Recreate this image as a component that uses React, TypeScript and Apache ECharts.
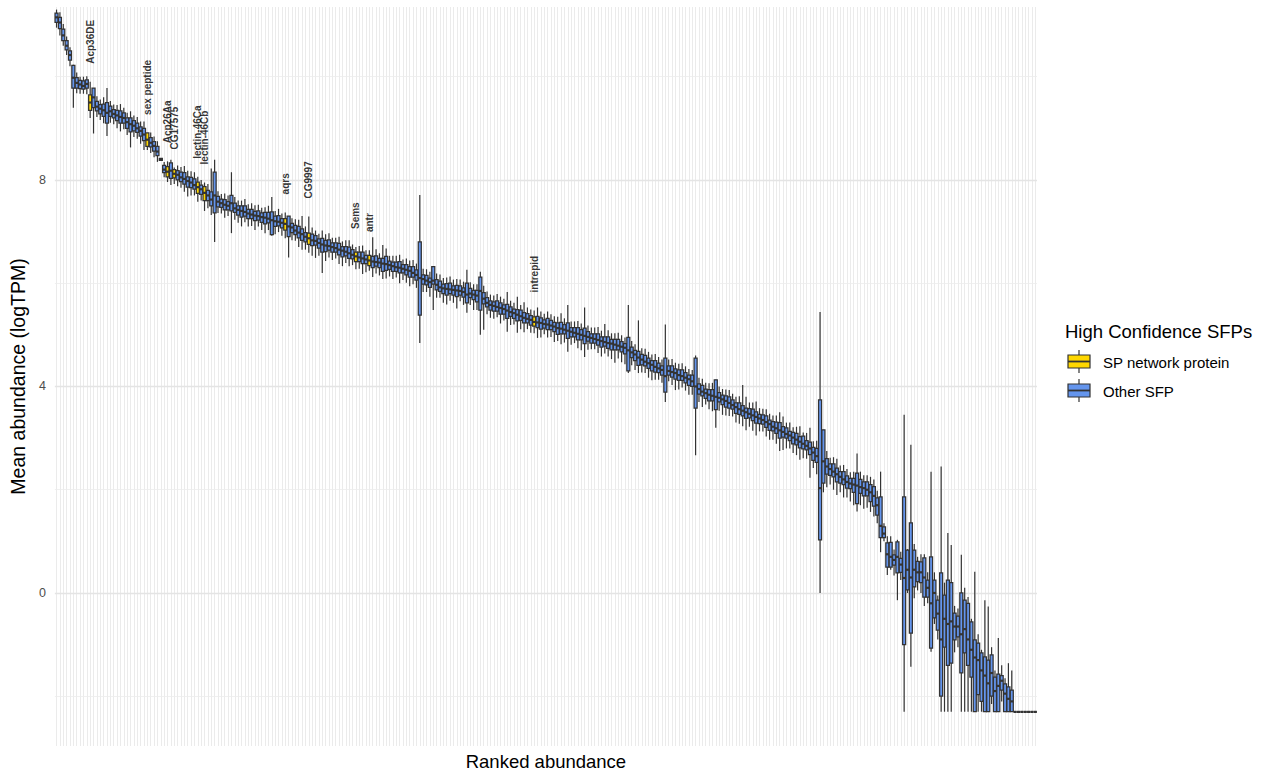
import React, { useEffect, useRef } from "react";
import * as echarts from "echarts";

// logTPM floor (log of 0.1 pseudocount)
const FLOOR = -2.303;

// median logTPM of each SFP, ordered by rank (292 high-confidence SFPs)
const medians: number[] = [
  11.15, 11.05, 10.8, 10.6, 10.42, 9.98, 9.88, 9.85, 9.82, 9.86,
  9.5, 9.6, 9.42, 9.38, 9.35, 9.3, 9.33, 9.28, 9.25, 9.22,
  9.2, 9.12, 9.08, 9.05, 9.0, 8.95, 8.88, 8.78, 8.72, 8.66,
  8.55, 8.4, 8.2, 8.16, 8.18, 8.12, 8.1, 8.05, 8.02, 7.98,
  7.95, 7.9, 7.86, 7.82, 7.75, 7.7, 7.62, 7.7, 7.58, 7.55,
  7.52, 7.5, 7.55, 7.45, 7.42, 7.4, 7.38, 7.35, 7.33, 7.31,
  7.3, 7.28, 7.27, 7.25, 7.22, 7.2, 7.19, 7.17, 7.15, 7.1,
  7.08, 7.02, 6.98, 6.95, 6.9, 6.87, 6.83, 6.82, 6.78, 6.75,
  6.73, 6.72, 6.7, 6.68, 6.65, 6.63, 6.61, 6.58, 6.55, 6.52,
  6.5, 6.48, 6.46, 6.44, 6.42, 6.41, 6.4, 6.38, 6.37, 6.35,
  6.33, 6.31, 6.3, 6.28, 6.26, 6.24, 6.2, 6.16, 6.1, 6.08,
  6.05, 6.02, 6.05, 5.97, 5.92, 5.9, 5.89, 5.88, 5.87, 5.86,
  5.85, 5.83, 5.78, 5.8, 5.78, 5.76, 5.85, 5.7, 5.62, 5.58,
  5.56, 5.54, 5.52, 5.5, 5.47, 5.44, 5.42, 5.39, 5.36, 5.33,
  5.31, 5.29, 5.25, 5.24, 5.23, 5.21, 5.2, 5.18, 5.16, 5.13,
  5.12, 5.1, 5.08, 5.06, 5.04, 5.02, 5.0, 4.98, 4.96, 4.94,
  4.92, 4.9, 4.88, 4.86, 4.84, 4.83, 4.81, 4.79, 4.77, 4.75,
  4.7, 4.66, 4.62, 4.56, 4.52, 4.48, 4.45, 4.42, 4.38, 4.35,
  4.32, 4.2, 4.3, 4.28, 4.26, 4.22, 4.2, 4.17, 4.14, 4.1,
  4.0, 3.95, 3.9, 3.87, 3.84, 3.82, 3.8, 3.78, 3.75, 3.72,
  3.68, 3.64, 3.6, 3.56, 3.53, 3.5, 3.47, 3.44, 3.41, 3.38,
  3.35, 3.31, 3.27, 3.22, 3.19, 3.15, 3.12, 3.08, 3.05, 3.01,
  2.97, 2.93, 2.89, 2.85, 2.8, 2.72, 2.65, 2.03, 2.55, 2.45,
  2.4, 2.35, 2.3, 2.25, 2.2, 2.15, 2.12, 2.1, 2.08, 2.05,
  2.03, 2.0, 1.95, 1.88, 1.7, 1.3, 1.15, 0.75, 0.7, 0.64,
  0.7, 0.55, 0.29, 0.45, 0.3, 0.45, 0.4, 0.4, 0.3, 0.1,
  -0.2, 0.0, -0.4, -0.9, -0.5, -0.6, -0.55, -0.65, -0.65, -0.8,
  -0.7, -0.9, -1.1, -1.25, -1.3, -1.5, -1.6, -1.75, -1.55, -1.9,
  -1.8, -1.7, -1.95, -2.05, -2.1, -2.303, -2.303, -2.303, -2.303, -2.303, -2.303, -2.303,
];

// median - Q1
const q1Drop: number[] = [
  .1, .12, .1, .08, .1, .2, .1, .08, .06, .08,
  .15, .2, .08, .1, .12, .2, .1, .08, .1, .12,
  .1, .12, .15, .1, .08, .1, .12, .13, .08, .1,
  .08, .02, .06, .1, .15, .08, .1, .08, .1, .12,
  .1, .08, .12, .1, .15, .1, .12, .34, .1, .08,
  .1, .08, .15, .08, .1, .12, .08, .1, .08, .1,
  .08, .1, .12, .08, .28, .1, .08, .1, .12, .2,
  .1, .08, .1, .12, .1, .12, .1, .08, .1, .15,
  .12, .08, .1, .08, .1, .12, .08, .1, .08, .1,
  .08, .1, .08, .1, .12, .08, .1, .15, .12, .08,
  .1, .08, .1, .08, .1, .12, .08, .1, .72, .1,
  .08, .1, .07, .1, .08, .1, .12, .08, .1, .12,
  .08, .1, .16, .08, .1, .12, .37, .1, .08, .1,
  .1, .08, .12, .1, .15, .08, .1, .12, .08, .1,
  .08, .1, .08, .1, .12, .08, .1, .08, .1, .12,
  .1, .08, .15, .1, .08, .12, .1, .15, .08, .1,
  .08, .1, .12, .08, .1, .12, .1, .08, .1, .12,
  .4, .1, .12, .15, .1, .08, .1, .12, .1, .08,
  .1, .31, .08, .1, .12, .1, .08, .1, .12, .1,
  .42, .1, .08, .1, .12, .1, .25, .08, .1, .12,
  .1, .08, .12, .1, .1, .12, .08, .1, .12, .1,
  .08, .1, .12, .08, .1, .15, .1, .08, .1, .12,
  .1, .12, .1, .08, .12, .15, .12, 1.0, .42, .15,
  .12, .1, .15, .12, .1, .12, .1, .15, .35, .12,
  .15, .12, .18, .2, .19, .23, .08, .25, .2, .1,
  .31, .15, 1.29, .39, 1.08, .33, .18, .2, .38, .18,
  .87, .48, .32, 1.1, .55, .8, .81, .26, .2, .75,
  .46, .5, .53, 1.05, .67, .6, .7, .55, .45, .4,
  .5, .18, .35, .25, .2, 0, 0, 0, 0, 0, 0, 0,
];

// Q3 - median
const q3Rise: number[] = [
  .08, .1, .12, .1, .08, .24, .1, .08, .1, .08,
  .15, .18, .1, .08, .12, .2, .1, .08, .1, .12,
  .1, .08, .12, .1, .1, .08, .12, .13, .1, .08,
  .1, .02, .08, .1, .15, .08, .08, .1, .12, .08,
  .1, .12, .1, .08, .12, .1, .15, .45, .1, .08,
  .1, .08, .15, .1, .08, .1, .12, .08, .1, .08,
  .1, .08, .1, .12, .16, .1, .12, .08, .1, .2,
  .08, .1, .12, .1, .08, .1, .12, .1, .08, .12,
  .1, .12, .08, .1, .12, .08, .1, .12, .1, .08,
  .1, .12, .08, .1, .1, .12, .08, .1, .15, .08,
  .08, .1, .12, .08, .1, .08, .12, .1, .7, .08,
  .1, .08, .27, .1, .12, .08, .1, .12, .08, .1,
  .1, .08, .22, .1, .08, .1, .27, .12, .1, .08,
  .08, .12, .1, .08, .12, .1, .08, .1, .12, .1,
  .1, .08, .1, .12, .1, .08, .12, .1, .08, .1,
  .12, .1, .15, .08, .1, .12, .1, .15, .1, .08,
  .1, .12, .08, .1, .12, .08, .1, .12, .1, .08,
  .25, .1, .08, .12, .1, .12, .1, .08, .12, .1,
  .08, .35, .1, .12, .08, .1, .12, .1, .08, .12,
  .55, .1, .12, .08, .1, .12, .33, .1, .08, .1,
  .12, .1, .08, .12, .1, .08, .1, .12, .1, .08,
  .1, .12, .08, .1, .12, .15, .1, .12, .08, .1,
  .12, .1, .15, .1, .12, .1, .15, 1.71, .61, .15,
  .1, .15, .12, .1, .15, .12, .1, .12, .24, .15,
  .12, .15, .15, .18, .14, .56, .13, .22, .28, .1,
  .29, .12, 1.57, .38, 1.06, .38, .21, .2, .38, .15,
  .9, .25, .26, 1.29, .46, .85, .75, .26, .2, .8,
  .56, .7, .54, .34, .33, .34, .36, .45, .35, .27,
  .23, .1, .19, .23, .22, 0, 0, 0, 0, 0, 0, 0,
];

// median - lower whisker end
const minDrop: number[] = [
  .2, .25, .2, .18, .22, .58, .2, .18, .15, .2,
  .3, .7, .2, .22, .25, .45, .22, .2, .25, .28,
  .22, .25, .45, .22, .2, .25, .3, .2, .2, .22,
  .2, .02, .15, .2, .28, .2, .22, .2, .25, .3,
  .25, .2, .28, .22, .35, .25, .3, .9, .22, .2,
  .25, .2, .58, .22, .25, .3, .2, .25, .22, .28,
  .2, .25, .3, .22, .3, .25, .2, .25, .28, .6,
  .25, .2, .28, .3, .25, .28, .3, .33, .25, .55,
  .3, .22, .25, .2, .28, .3, .22, .25, .2, .25,
  .22, .3, .25, .2, .3, .22, .25, .3, .28, .22,
  .25, .2, .3, .22, .25, .3, .22, .25, 1.26, .25,
  .22, .28, .57, .25, .2, .28, .3, .22, .25, .35,
  .2, .25, .35, .22, .3, .28, .85, .6, .22, .25,
  .25, .2, .3, .22, .41, .25, .22, .35, .25, .28,
  .2, .25, .22, .3, .28, .2, .25, .22, .3, .25,
  .3, .25, .41, .25, .2, .28, .3, .41, .25, .22,
  .2, .25, .3, .22, .26, .3, .35, .25, .3, .32,
  .44, .25, .3, .3, .25, .22, .28, .3, .25, .22,
  .25, .5, .2, .25, .33, .28, .22, .25, .3, .26,
  1.33, .25, .3, .22, .28, .3, .6, .25, .3, .28,
  .25, .22, .3, .28, .3, .35, .25, .3, .36, .25,
  .22, .28, .3, .25, .3, .4, .35, .28, .25, .3,
  .3, .35, .28, .25, .57, .3, .35, 2.03, .6, .4,
  .3, .35, .4, .3, .35, .3, .35, .4, .5, .35,
  .4, .35, .38, .4, .35, .51, .15, .4, .25, .3,
  .84, .3, 2.59, .45, 1.73, .55, .35, .4, .55, .3,
  .94, .6, .5, 1.4, 1.8, 1.7, 1.75, .5, .4, 1.5,
  1.6, 1.4, 1.2, 1.05, 1.0, .8, .7, .55, .6, .4,
  .5, .4, .35, .25, .2, 0, 0, 0, 0, 0, 0, 0,
];

// upper whisker end - median
const maxRise: number[] = [
  .15, .2, .22, .18, .15, .25, .2, .15, .18, .15,
  .4, .18, .2, .18, .25, .48, .2, .18, .2, .25,
  .2, .18, .25, .2, .22, .18, .25, .13, .2, .18,
  .2, .02, .15, .2, .21, .12, .18, .2, .25, .2,
  .22, .25, .2, .18, .2, .22, .6, .69, .2, .18,
  .22, .2, .6, .22, .18, .2, .25, .18, .22, .2,
  .22, .18, .2, .25, .45, .2, .25, .18, .22, .2,
  .18, .22, .25, .35, .2, .42, .25, .2, .18, .27,
  .22, .25, .18, .2, .25, .18, .22, .25, .2, .18,
  .22, .25, .18, .2, .47, .25, .18, .36, .3, .18,
  .2, .22, .25, .18, .22, .2, .25, .22, 1.61, .2,
  .22, .2, .27, .22, .25, .2, .22, .25, .2, .22,
  .22, .2, .48, .22, .2, .22, .37, .25, .22, .2,
  .2, .25, .22, .2, .36, .22, .2, .35, .22, .3,
  .22, .2, .22, .29, .22, .2, .25, .22, .2, .22,
  .3, .22, .5, .2, .22, .25, .22, .55, .22, .2,
  .22, .25, .2, .35, .25, .2, .22, .25, .22, .2,
  .88, .22, .2, .72, .22, .25, .22, .2, .25, .22,
  .2, 1.0, .22, .25, .2, .22, .25, .22, .2, .22,
  .6, .22, .25, .2, .22, .25, .33, .22, .2, .22,
  .25, .22, .2, .25, .5, .3, .22, .25, .3, .2,
  .22, .25, .2, .22, .25, .35, .3, .22, .25, .2,
  .25, .3, .22, .25, .4, .22, .3, 3.41, .61, .3,
  .22, .28, .3, .22, .28, .25, .22, .25, .62, .3,
  .25, .28, .3, .32, .28, 1.05, .2, .35, .4, .2,
  .33, .25, 3.16, .4, 2.57, .5, .3, .35, .45, .3,
  2.55, .4, .35, 3.35, .7, 1.76, 1.48, .4, .35, 1.54,
  .8, .82, .6, 1.66, .5, .4, 1.46, 1.49, .5, .4,
  .93, .3, .3, .69, .6, 0, 0, 0, 0, 0, 0, 0,
];

// SP network proteins (highlighted and labelled)
const spGenes = [
  "Acp36DE", "sex peptide", "Acp26Aa", "CG17575", "lectin-46Ca", "lectin-46Cb",
  "aqrs", "CG9997", "Sems", "antr", "intrepid",
];
const spRanks = [10, 27, 33, 35, 42, 44, 68, 75, 89, 93, 142];

const gridValues = [-2, 0, 2, 4, 6, 8, 10];
const labelledTicks = [0, 4, 8];
const legendTitle = "High Confidence SFPs";
const legendLabels = ["SP network protein", "Other SFP"];

const SP_COLOR = "#FFD700";
const OTHER_COLOR = "#6495ED";
const OUTLINE = "#333333";
const FONT = "'Liberation Sans', Arial, Helvetica, sans-serif";
const LABEL_LIFT = 0.35;

export default function App() {
  const ref = useRef<HTMLDivElement>(null);

  useEffect(() => {
    if (!ref.current) return;
    const chart = echarts.init(ref.current, null, { renderer: "svg" });
    const ranks = medians.map((_, i) => String(i + 1));
    const spSet = new Set(spRanks);
    const boxData = medians.map((m, i) => {
      const q1 = Math.max(FLOOR, m - q1Drop[i]);
      const q3 = m + q3Rise[i];
      const lo = Math.max(FLOOR, Math.min(q1, m - minDrop[i]));
      const hi = Math.max(q3, m + maxRise[i]);
      return [i, lo, q1, m, q3, hi, spSet.has(i) ? 1 : 0];
    });
    const labelData = spRanks.map((r, k) => ({
      name: spGenes[k],
      value: [r, (boxData[r][5] as number) + LABEL_LIFT],
    }));

    const legendKey = (top: number, fill: string) => [
      {
        type: "line",
        shape: { x1: 1079, y1: top, x2: 1079, y2: top + 23 },
        style: { stroke: OUTLINE, lineWidth: 1.2 },
      },
      {
        type: "rect",
        shape: { x: 1068, y: top + 5, width: 22, height: 13 },
        style: { fill, stroke: OUTLINE, lineWidth: 1.2 },
      },
      {
        type: "line",
        shape: { x1: 1068, y1: top + 11.5, x2: 1090, y2: top + 11.5 },
        style: { stroke: OUTLINE, lineWidth: 1.8 },
      },
    ];

    const legendText = (y: number, text: string) => ({
      type: "text",
      x: 1103,
      y,
      style: {
        text,
        fill: "#000",
        fontSize: 15,
        fontFamily: FONT,
        align: "left",
        verticalAlign: "middle",
        textAlign: "left",
        textVerticalAlign: "middle",
      },
    });

    chart.setOption({
      animation: false,
      textStyle: { fontFamily: FONT },
      grid: { left: 53, right: 225, top: 7, bottom: 30, containLabel: false },
      xAxis: {
        type: "category",
        data: ranks,
        name: "Ranked abundance",
        nameLocation: "middle",
        nameGap: 6,
        nameTextStyle: { fontSize: 18.5, color: "#000", fontFamily: FONT },
        axisLine: { show: false },
        axisTick: { show: false },
        axisLabel: { show: false },
        splitLine: {
          show: true,
          interval: 0,
          alignWithLabel: true,
          lineStyle: { color: "#EBEBEB", width: 1 },
        },
      },
      yAxis: {
        type: "value",
        min: -2.964,
        max: 11.35,
        minInterval: 2,
        maxInterval: 2,
        splitNumber: 7,
        name: "Mean abundance (logTPM)",
        nameLocation: "middle",
        nameGap: 22,
        nameTextStyle: { fontSize: 19.5, color: "#000", fontFamily: FONT },
        axisLine: { show: false },
        axisTick: { show: false },
        splitLine: { show: false },
        axisLabel: {
          color: "#4D4D4D",
          fontSize: 12.5,
          margin: 9,
          fontFamily: FONT,
          formatter: (v: number) =>
            labelledTicks.some((t) => Math.abs(t - v) < 1e-9) ? String(Math.round(v)) : "",
        },
      },
      series: [
        {
          type: "line",
          data: [],
          z: 1,
          silent: true,
          markLine: {
            silent: true,
            z: 1,
            symbol: "none",
            animation: false,
            label: { show: false },
            data: gridValues.map((v) => ({
              yAxis: v,
              lineStyle: {
                color: labelledTicks.includes(v) ? "#E4E4E4" : "#ECECEC",
                width: labelledTicks.includes(v) ? 1.3 : 0.8,
                type: "solid",
              },
            })),
          },
        },
        {
          type: "custom",
          z: 3,
          silent: true,
          data: boxData,
          encode: { x: 0, y: [1, 2, 3, 4, 5] },
          renderItem: (_params: any, api: any) => {
            const i = api.value(0);
            const lo = api.coord([i, api.value(1)]);
            const q1 = api.coord([i, api.value(2)]);
            const md = api.coord([i, api.value(3)]);
            const q3 = api.coord([i, api.value(4)]);
            const hi = api.coord([i, api.value(5)]);
            const band = api.size([1, 0])[0];
            const w = band * 0.9;
            const fill = api.value(6) ? SP_COLOR : OTHER_COLOR;
            return {
              type: "group",
              children: [
                {
                  type: "line",
                  shape: { x1: lo[0], y1: lo[1], x2: hi[0], y2: hi[1] },
                  style: { stroke: OUTLINE, lineWidth: 1.2 },
                },
                {
                  type: "rect",
                  shape: {
                    x: md[0] - w / 2,
                    y: q3[1],
                    width: w,
                    height: Math.max(q1[1] - q3[1], 0),
                  },
                  style: { fill, stroke: OUTLINE, lineWidth: 1.25 },
                },
                {
                  type: "line",
                  shape: { x1: md[0] - w / 2, y1: md[1], x2: md[0] + w / 2, y2: md[1] },
                  style: { stroke: OUTLINE, lineWidth: 2.2 },
                },
              ],
            };
          },
        },
        {
          type: "scatter",
          z: 4,
          data: labelData,
          symbolSize: 1,
          itemStyle: { color: "rgba(0,0,0,0)" },
          silent: true,
          label: {
            show: true,
            position: "inside",
            formatter: "{b}",
            rotate: 90,
            align: "left",
            verticalAlign: "middle",
            fontSize: 10,
            fontWeight: "bold",
            color: "#000",
            fontFamily: FONT,
          },
        },
      ],
      graphic: [
        {
          type: "text",
          x: 1065,
          y: 331,
          style: {
            text: legendTitle,
            fill: "#000",
            fontSize: 18.5,
            fontFamily: FONT,
            align: "left",
            verticalAlign: "middle",
            textAlign: "left",
            textVerticalAlign: "middle",
          },
        },
        ...legendKey(350, SP_COLOR),
        legendText(362, legendLabels[0]),
        ...legendKey(379, OTHER_COLOR),
        legendText(391, legendLabels[1]),
      ],
    });

    return () => chart.dispose();
  }, []);

  return (
    <div
      ref={ref}
      style={{ position: "absolute", left: 0, top: 0, width: 1262, height: 776 }}
    />
  );
}
